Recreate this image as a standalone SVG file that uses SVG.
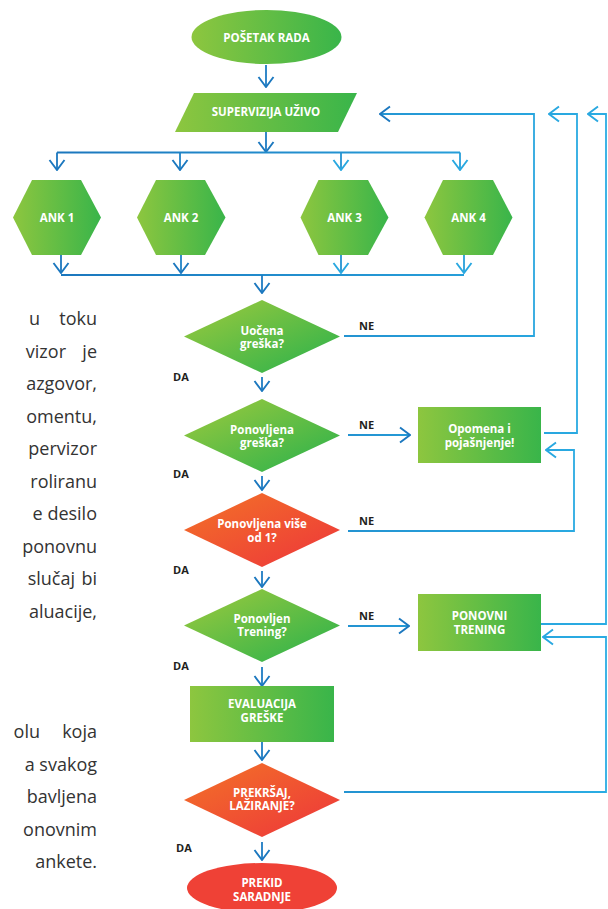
<svg xmlns="http://www.w3.org/2000/svg" width="608" height="909" viewBox="0 0 608 909">
<defs>
  <linearGradient id="gGreen" x1="0" y1="0" x2="1" y2="0">
    <stop offset="0" stop-color="#8dc63f"/>
    <stop offset="1" stop-color="#39b54a"/>
  </linearGradient>
  <linearGradient id="gGreenD" x1="0.15" y1="0.15" x2="0.85" y2="0.85">
    <stop offset="0" stop-color="#8dc63f"/>
    <stop offset="1" stop-color="#39b54a"/>
  </linearGradient>
  <linearGradient id="gRedD" x1="0.15" y1="0.15" x2="0.85" y2="0.85">
    <stop offset="0" stop-color="#f26a2a"/>
    <stop offset="1" stop-color="#ee3e38"/>
  </linearGradient>
  <linearGradient id="gWire" gradientUnits="userSpaceOnUse" x1="40" y1="0" x2="600" y2="0">
    <stop offset="0" stop-color="#1b75bc"/>
    <stop offset="1" stop-color="#2aace3"/>
  </linearGradient>
  <marker id="aD" markerUnits="userSpaceOnUse" viewBox="0 0 12 18" refX="11" refY="9" markerWidth="12" markerHeight="18" orient="auto">
    <path d="M1,1.5 L11,9 L1,16.5" fill="none" stroke="#1c78bf" stroke-width="1.9"/>
  </marker>
  <marker id="aL" markerUnits="userSpaceOnUse" viewBox="0 0 12 18" refX="11" refY="9" markerWidth="12" markerHeight="18" orient="auto">
    <path d="M1,1.5 L11,9 L1,16.5" fill="none" stroke="#29a8e0" stroke-width="1.9"/>
  </marker>
</defs>
<style>
  .lbl{font-family:"Open Sans","Liberation Sans",sans-serif;font-weight:700;font-size:11.5px;fill:#ffffff;text-anchor:middle}
  .yn{font-family:"Open Sans","Liberation Sans",sans-serif;font-weight:700;font-size:11px;fill:#231f20}
  .para{font-family:"Open Sans","Liberation Sans",sans-serif;font-size:18px;fill:#333333;text-anchor:end}
  .w{fill:none;stroke:url(#gWire);stroke-width:1.8}
  .wc{fill:none;stroke:#1e7cc3;stroke-width:1.8}
  .ad{marker-end:url(#aD)}
  .al{marker-end:url(#aL)}
</style>

<g id="paragraph">
  <text class="para" x="40" y="325">u</text>
  <text class="para" x="97" y="325">toku</text>
  <text class="para" x="66" y="357.5">vizor</text>
  <text class="para" x="97" y="357.5">je</text>
  <text class="para" x="97" y="390">azgovor,</text>
  <text class="para" x="97" y="422.5">omentu,</text>
  <text class="para" x="97" y="455">pervizor</text>
  <text class="para" x="97" y="487.5">roliranu</text>
  <text class="para" x="97" y="520">e desilo</text>
  <text class="para" x="97" y="552.5">ponovnu</text>
  <text class="para" x="75" y="585">slučaj</text>
  <text class="para" x="97" y="585">bi</text>
  <text class="para" x="97" y="617.5">aluacije,</text>
  <text class="para" x="40" y="738">olu</text>
  <text class="para" x="97" y="738">koja</text>
  <text class="para" x="97" y="770.5">a svakog</text>
  <text class="para" x="97" y="803">bavljena</text>
  <text class="para" x="97" y="835.5">onovnim</text>
  <text class="para" x="97" y="868">ankete.</text>
</g>

<g id="connectors">
  <path class="wc ad" d="M266,65 V87"/>
  <path class="wc ad" d="M266,132 V152"/>
  <path class="w" d="M57,152.5 H460"/>
  <path class="w ad" d="M57,152.5 V170"/>
  <path class="w ad" d="M180,152.5 V170"/>
  <path class="w al" d="M341,152.5 V170"/>
  <path class="w al" d="M460,152.5 V170"/>
  <path class="w ad" d="M61,255 V273"/>
  <path class="w ad" d="M181,255 V273"/>
  <path class="w al" d="M341,255 V273"/>
  <path class="w al" d="M464,255 V273"/>
  <path class="w" d="M61,275 H464"/>
  <path class="wc ad" d="M262,275 V293"/>
  <path class="wc ad" d="M262,377 V391"/>
  <path class="wc ad" d="M262,476 V490"/>
  <path class="wc ad" d="M262,571 V587"/>
  <path class="wc ad" d="M262,667 V686"/>
  <path class="wc ad" d="M262,742 V760"/>
  <path class="wc ad" d="M262,842 V860"/>
  <path class="w ad" d="M344,336 H534 V114 H380"/>
  <path class="w ad" d="M348,435 H410"/>
  <path class="w al" d="M544,433 H577 V114 H549"/>
  <path class="w al" d="M348,531 H574 V450 H546"/>
  <path class="w ad" d="M348,626 H409"/>
  <path class="w al" d="M541,624 H606 V114 H588"/>
  <path class="w al" d="M344,792 H606 V637 H543"/>
</g>

<g id="start">
  <ellipse cx="266.5" cy="37" rx="75" ry="27" fill="url(#gGreen)"/>
  <text class="lbl" x="266.5" y="41.5">POŠETAK RADA</text>
</g>

<g id="supervizija">
  <polygon points="194,93 357,93 338,132 175,132" fill="url(#gGreen)"/>
  <text class="lbl" x="266" y="116">SUPERVIZIJA UŽIVO</text>
</g>

<g id="ank1">
  <polygon points="13,217.5 32,180 81,180 101,217.5 81,255 32,255" fill="url(#gGreen)"/>
  <text class="lbl" x="57" y="221.5">ANK 1</text>
</g>
<g id="ank2">
  <polygon points="137,217.5 156,180 205,180 225.5,217.5 205,255 156,255" fill="url(#gGreen)"/>
  <text class="lbl" x="181" y="221.5">ANK 2</text>
</g>
<g id="ank3">
  <polygon points="300.5,217.5 318.5,180 368,180 388.5,217.5 368,255 318.5,255" fill="url(#gGreen)"/>
  <text class="lbl" x="344.5" y="221.5">ANK 3</text>
</g>
<g id="ank4">
  <polygon points="424.5,217.5 443,180 493,180 512.5,217.5 493,255 443,255" fill="url(#gGreen)"/>
  <text class="lbl" x="468.5" y="221.5">ANK 4</text>
</g>

<g id="d-uocena">
  <polygon points="262,300 340,336.5 262,373 184,336.5" fill="url(#gGreenD)"/>
  <text class="lbl" x="262" y="334.5">Uočena</text>
  <text class="lbl" x="262" y="348">greška?</text>
  <text class="yn" x="359" y="330">NE</text>
  <text class="yn" x="173" y="381">DA</text>
</g>

<g id="d-ponovljena">
  <polygon points="262,399 340,435.5 262,472 184,435.5" fill="url(#gGreenD)"/>
  <text class="lbl" x="262" y="433.5">Ponovljena</text>
  <text class="lbl" x="262" y="447">greška?</text>
  <text class="yn" x="359" y="429">NE</text>
  <text class="yn" x="173" y="478">DA</text>
</g>

<g id="d-vise">
  <polygon points="262,493 340,530 262,567 184,530" fill="url(#gRedD)"/>
  <text class="lbl" x="262" y="528">Ponovljena više</text>
  <text class="lbl" x="262" y="541.5">od 1?</text>
  <text class="yn" x="359" y="525">NE</text>
  <text class="yn" x="173" y="574">DA</text>
</g>

<g id="d-trening">
  <polygon points="262,589 340,625.5 262,662 184,625.5" fill="url(#gGreenD)"/>
  <text class="lbl" x="262" y="622.5">Ponovljen</text>
  <text class="lbl" x="262" y="636">Trening?</text>
  <text class="yn" x="359" y="620">NE</text>
  <text class="yn" x="173" y="670">DA</text>
</g>

<g id="opomena">
  <rect x="418" y="407" width="123" height="56" fill="url(#gGreen)"/>
  <text class="lbl" x="479.5" y="433">Opomena i</text>
  <text class="lbl" x="479.5" y="446.5">pojašnjenje!</text>
</g>

<g id="ponovni">
  <rect x="418" y="594" width="123" height="57" fill="url(#gGreen)"/>
  <text class="lbl" x="479.5" y="620">PONOVNI</text>
  <text class="lbl" x="479.5" y="633.5">TRENING</text>
</g>

<g id="evaluacija">
  <rect x="190" y="686" width="144" height="56" fill="url(#gGreen)"/>
  <text class="lbl" x="262" y="708">EVALUACIJA</text>
  <text class="lbl" x="262" y="721.5">GREŠKE</text>
</g>

<g id="d-prekrsaj">
  <polygon points="262,763 340,800 262,837 184,800" fill="url(#gRedD)"/>
  <text class="lbl" x="262" y="796.5">PREKRŠAJ,</text>
  <text class="lbl" x="262" y="810">LAŽIRANJE?</text>
  <text class="yn" x="176" y="852">DA</text>
</g>

<g id="prekid">
  <ellipse cx="262" cy="888" rx="75" ry="25" fill="#ef4136"/>
  <text class="lbl" x="262" y="887">PREKID</text>
  <text class="lbl" x="262" y="901">SARADNJE</text>
</g>
</svg>
